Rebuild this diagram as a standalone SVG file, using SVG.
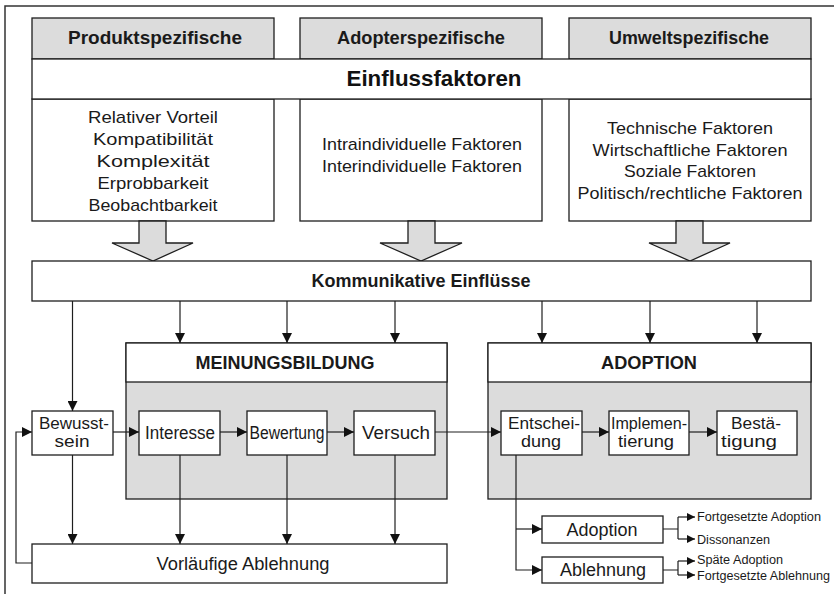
<svg xmlns="http://www.w3.org/2000/svg" width="834" height="594" viewBox="0 0 834 594">
  <style>
    .box { fill: #ffffff; stroke: #1e1e1e; stroke-width: 1.3; }
    .grey { fill: #dcdcdc; stroke: #1e1e1e; stroke-width: 1.3; }
    .frame { fill: none; stroke: #333333; stroke-width: 1.5; }
    .line { fill: none; stroke: #1e1e1e; stroke-width: 1.2; }
    .hd { font-family: "Liberation Sans", Arial, sans-serif; font-weight: bold; font-size: 17.5px; fill: #1a1a1a; text-anchor: middle; }
    .big { font-family: "Liberation Sans", Arial, sans-serif; font-weight: bold; font-size: 22px; fill: #111111; text-anchor: middle; }
    .sec { font-family: "Liberation Sans", Arial, sans-serif; font-weight: bold; font-size: 18.5px; fill: #1a1a1a; text-anchor: middle; }
    .tx { font-family: "Liberation Sans", Arial, sans-serif; font-size: 17px; fill: #1a1a1a; text-anchor: middle; }
    .nd { font-family: "Liberation Sans", Arial, sans-serif; font-size: 17.5px; fill: #1a1a1a; text-anchor: middle; }
    .nd2 { font-family: "Liberation Sans", Arial, sans-serif; font-size: 16px; fill: #1a1a1a; text-anchor: middle; }
    .sm { font-family: "Liberation Sans", Arial, sans-serif; font-size: 12.5px; fill: #1a1a1a; }
  </style>
  <defs>
    <marker id="ah" viewBox="0 0 10 10" refX="10" refY="5" markerWidth="10" markerHeight="10" markerUnits="userSpaceOnUse" orient="auto">
      <path d="M0,0 L10,5 L0,10 Z" fill="#111111"/>
    </marker>
    <marker id="ahs" viewBox="0 0 10 10" refX="10" refY="5" markerWidth="8" markerHeight="8" markerUnits="userSpaceOnUse" orient="auto">
      <path d="M0,0 L10,5 L0,10 Z" fill="#111111"/>
    </marker>
  </defs>

  <rect width="834" height="594" fill="#ffffff"/>
  <!-- outer frame -->
  <path class="frame" d="M5,600 V6 H840"/>

  <!-- factor columns -->
  <g id="produkt">
    <rect class="grey" x="32" y="18" width="242" height="41"/>
    <text class="hd" x="155" y="44" textLength="174" lengthAdjust="spacingAndGlyphs">Produktspezifische</text>
    <rect class="box" x="32" y="99" width="242" height="122"/>
    <text class="tx" x="153" y="123" textLength="130" lengthAdjust="spacingAndGlyphs">Relativer Vorteil</text>
    <text class="tx" x="153" y="145" textLength="120" lengthAdjust="spacingAndGlyphs">Kompatibilität</text>
    <text class="tx" x="153" y="167" textLength="113" lengthAdjust="spacingAndGlyphs">Komplexität</text>
    <text class="tx" x="153" y="189" textLength="111" lengthAdjust="spacingAndGlyphs">Erprobbarkeit</text>
    <text class="tx" x="153" y="211" textLength="129" lengthAdjust="spacingAndGlyphs">Beobachtbarkeit</text>
  </g>
  <g id="adopter">
    <rect class="grey" x="300" y="18" width="242" height="41"/>
    <text class="hd" x="421" y="44" textLength="168" lengthAdjust="spacingAndGlyphs">Adopterspezifische</text>
    <rect class="box" x="300" y="99" width="242" height="122"/>
    <text class="tx" x="422" y="150" textLength="200" lengthAdjust="spacingAndGlyphs">Intraindividuelle Faktoren</text>
    <text class="tx" x="422" y="172" textLength="200" lengthAdjust="spacingAndGlyphs">Interindividuelle Faktoren</text>
  </g>
  <g id="umwelt">
    <rect class="grey" x="569" y="18" width="242" height="41"/>
    <text class="hd" x="689" y="44" textLength="160" lengthAdjust="spacingAndGlyphs">Umweltspezifische</text>
    <rect class="box" x="569" y="99" width="242" height="122"/>
    <text class="tx" x="690" y="134" textLength="166" lengthAdjust="spacingAndGlyphs">Technische Faktoren</text>
    <text class="tx" x="690" y="156" textLength="195" lengthAdjust="spacingAndGlyphs">Wirtschaftliche Faktoren</text>
    <text class="tx" x="690" y="177" textLength="132" lengthAdjust="spacingAndGlyphs">Soziale Faktoren</text>
    <text class="tx" x="690" y="199" textLength="225" lengthAdjust="spacingAndGlyphs">Politisch/rechtliche Faktoren</text>
  </g>
  <g id="einflussfaktoren">
    <rect class="box" x="32" y="59" width="779" height="40"/>
    <text class="big" x="434" y="86" textLength="175" lengthAdjust="spacingAndGlyphs">Einflussfaktoren</text>
  </g>

  <!-- block arrows into the communication band -->
  <g id="block-arrows">
    <polygon class="grey" points="139,221 166,221 166,243 193,243 153,261 112,243 139,243"/>
    <polygon class="grey" points="408,221 435,221 435,243 462,243 421,261 380,243 408,243"/>
    <polygon class="grey" points="676,221 703,221 703,243 730,243 690,261 649,243 676,243"/>
  </g>

  <g id="kommunikation">
    <rect class="box" x="32" y="261" width="779" height="40"/>
    <text class="hd" x="421" y="287" textLength="219" lengthAdjust="spacingAndGlyphs">Kommunikative Einflüsse</text>
  </g>

  <g id="meinungsbildung">
    <rect class="grey" x="126" y="343" width="321" height="156"/>
    <rect class="box" x="126" y="343" width="321" height="39"/>
    <text class="sec" x="285" y="369" textLength="179" lengthAdjust="spacingAndGlyphs">MEINUNGSBILDUNG</text>
  </g>
  <g id="adoption-phase">
    <rect class="grey" x="488" y="343" width="323" height="156"/>
    <rect class="box" x="488" y="343" width="323" height="39"/>
    <text class="sec" x="649" y="369" textLength="96" lengthAdjust="spacingAndGlyphs">ADOPTION</text>
  </g>

  <g id="bewusstsein">
    <rect class="box" x="32" y="411" width="81" height="44"/>
    <text class="nd2" x="74" y="429" textLength="70" lengthAdjust="spacingAndGlyphs">Bewusst-</text>
    <text class="nd2" x="72" y="447" textLength="35" lengthAdjust="spacingAndGlyphs">sein</text>
  </g>
  <g id="interesse">
    <rect class="box" x="139" y="411" width="81" height="44"/>
    <text class="nd" x="180" y="439" textLength="70" lengthAdjust="spacingAndGlyphs">Interesse</text>
  </g>
  <g id="bewertung">
    <rect class="box" x="247" y="411" width="80" height="44"/>
    <text class="nd" x="287" y="439" textLength="75" lengthAdjust="spacingAndGlyphs">Bewertung</text>
  </g>
  <g id="versuch">
    <rect class="box" x="354" y="411" width="81" height="44"/>
    <text class="nd" x="396" y="439" textLength="68" lengthAdjust="spacingAndGlyphs">Versuch</text>
  </g>
  <g id="entscheidung">
    <rect class="box" x="501" y="411" width="81" height="44"/>
    <text class="nd2" x="544" y="429" textLength="72" lengthAdjust="spacingAndGlyphs">Entschei-</text>
    <text class="nd2" x="541" y="447" textLength="40" lengthAdjust="spacingAndGlyphs">dung</text>
  </g>
  <g id="implementierung">
    <rect class="box" x="609" y="411" width="80" height="44"/>
    <text class="nd2" x="649" y="429" textLength="76" lengthAdjust="spacingAndGlyphs">Implemen-</text>
    <text class="nd2" x="646" y="447" textLength="56" lengthAdjust="spacingAndGlyphs">tierung</text>
  </g>
  <g id="bestaetigung">
    <rect class="box" x="717" y="411" width="80" height="44"/>
    <text class="nd2" x="756" y="429" textLength="50" lengthAdjust="spacingAndGlyphs">Bestä-</text>
    <text class="nd2" x="749" y="447" textLength="56" lengthAdjust="spacingAndGlyphs">tigung</text>
  </g>

  <g id="vorlaeufige-ablehnung">
    <rect class="box" x="32" y="544" width="415" height="39"/>
    <text class="nd" x="243" y="570" textLength="173" lengthAdjust="spacingAndGlyphs">Vorläufige Ablehnung</text>
  </g>
  <g id="adoption">
    <rect class="box" x="542" y="516" width="121" height="27"/>
    <text class="nd" x="602" y="536" textLength="71" lengthAdjust="spacingAndGlyphs">Adoption</text>
  </g>
  <g id="ablehnung">
    <rect class="box" x="542" y="557" width="121" height="26"/>
    <text class="nd" x="603" y="576" textLength="86" lengthAdjust="spacingAndGlyphs">Ablehnung</text>
  </g>

  <g id="outcomes">
    <text class="sm" x="697" y="521" textLength="124" lengthAdjust="spacingAndGlyphs">Fortgesetzte Adoption</text>
    <text class="sm" x="697" y="544" textLength="73" lengthAdjust="spacingAndGlyphs">Dissonanzen</text>
    <text class="sm" x="697" y="564" textLength="86" lengthAdjust="spacingAndGlyphs">Späte Adoption</text>
    <text class="sm" x="697" y="580" textLength="133" lengthAdjust="spacingAndGlyphs">Fortgesetzte Ablehnung</text>
  </g>

  <g id="connectors">
    <!-- communication influences -->
    <path class="line" marker-end="url(#ah)" d="M72.5,301 V411"/>
    <path class="line" marker-end="url(#ah)" d="M180,301 V343"/>
    <path class="line" marker-end="url(#ah)" d="M287,301 V343"/>
    <path class="line" marker-end="url(#ah)" d="M395,301 V343"/>
    <path class="line" marker-end="url(#ah)" d="M542,301 V343"/>
    <path class="line" marker-end="url(#ah)" d="M650,301 V343"/>
    <path class="line" marker-end="url(#ah)" d="M757,301 V343"/>
    <!-- process chain -->
    <path class="line" marker-end="url(#ah)" d="M113,432 H139"/>
    <path class="line" marker-end="url(#ah)" d="M220,432 H247"/>
    <path class="line" marker-end="url(#ah)" d="M327,432 H354"/>
    <path class="line" marker-end="url(#ah)" d="M435,432 H501"/>
    <path class="line" marker-end="url(#ah)" d="M582,432 H609"/>
    <path class="line" marker-end="url(#ah)" d="M689,432 H717"/>
    <!-- provisional rejection -->
    <path class="line" marker-end="url(#ah)" d="M72.5,455 V544"/>
    <path class="line" marker-end="url(#ah)" d="M180,455 V544"/>
    <path class="line" marker-end="url(#ah)" d="M287,455 V544"/>
    <path class="line" marker-end="url(#ah)" d="M395,455 V544"/>
    <!-- feedback loop -->
    <path class="line" marker-end="url(#ah)" d="M32,563 H16 V432 H32"/>
    <!-- decision outcomes -->
    <path class="line" marker-end="url(#ah)" d="M516,455 V570 H542"/>
    <path class="line" marker-end="url(#ah)" d="M516,529 H542"/>
    <path class="line" d="M663,529 H678 M678,517 V539 M663,570 H678 M678,561 V575"/>
    <path class="line" marker-end="url(#ahs)" d="M678,517 H695"/>
    <path class="line" marker-end="url(#ahs)" d="M678,539 H695"/>
    <path class="line" marker-end="url(#ahs)" d="M678,561 H695"/>
    <path class="line" marker-end="url(#ahs)" d="M678,575 H695"/>
  </g>
</svg>
